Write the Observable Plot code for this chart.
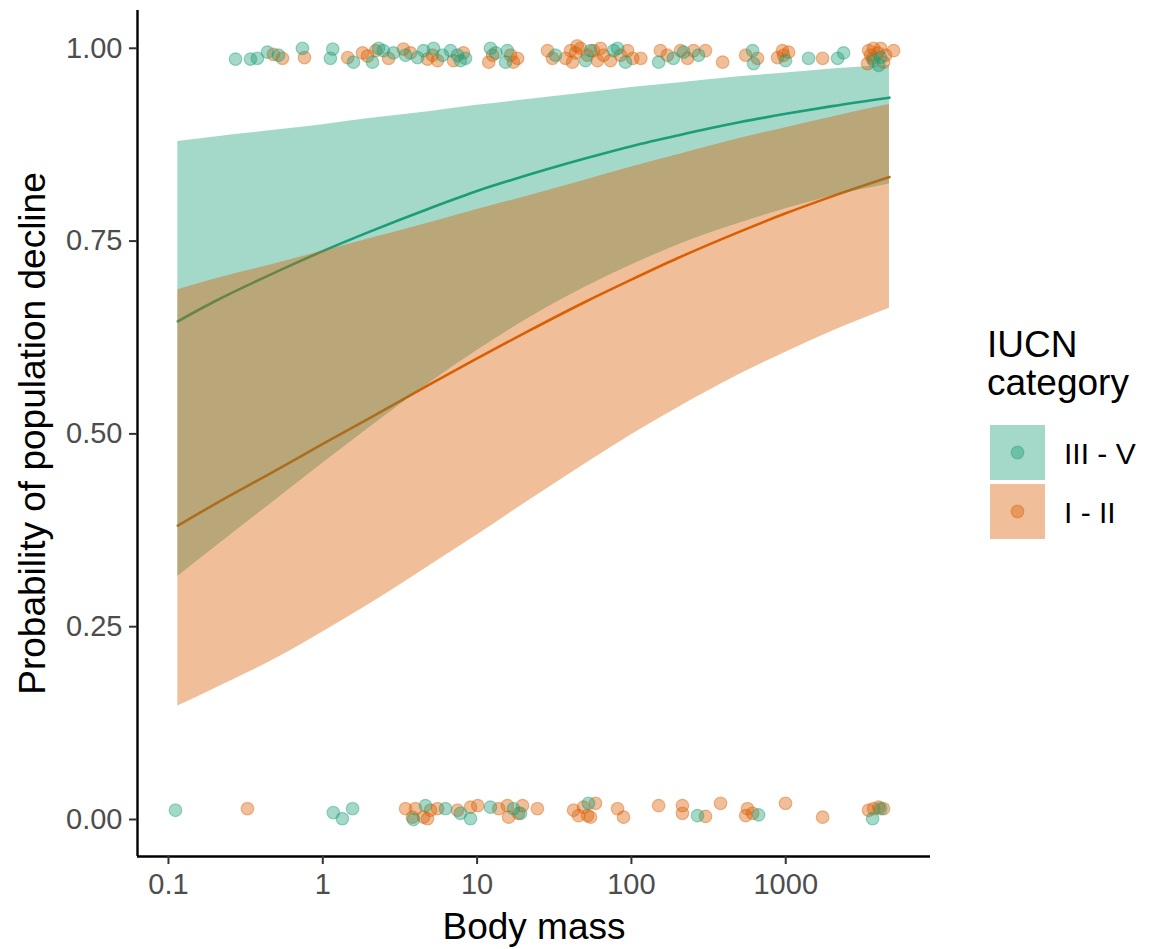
<!DOCTYPE html>
<html><head><meta charset="utf-8">
<script src="https://cdn.jsdelivr.net/npm/d3@7"></script>
<script src="https://cdn.jsdelivr.net/npm/@observablehq/plot@0.6"></script>
<style>
body{margin:0;background:#fff;}
#wrap{position:relative;width:1156px;height:949px;font-family:"Liberation Sans",Arial,sans-serif;}
#wrap svg{position:absolute;}
</style></head><body><div id="wrap"></div>
<script>
// ---- data ----
const groups = ["III - V", "I - II"];
const groupColors = ["#1B9E77", "#D95F02"];

const curveMass = [0.115, 0.2, 0.5, 1, 2, 5, 10, 20, 50, 100, 200, 500, 1000, 2000, 4700];
const fitIIIV  = [0.646,0.672,0.710,0.737,0.762,0.793,0.815,0.834,0.857,0.873,0.887,0.904,0.915,0.925,0.936];
const lowIIIV  = [0.315,0.353,0.415,0.462,0.508,0.567,0.608,0.646,0.690,0.719,0.745,0.773,0.792,0.808,0.824];
const highIIIV = [0.879,0.885,0.894,0.901,0.909,0.918,0.926,0.933,0.942,0.949,0.955,0.963,0.968,0.973,0.978];
const fitIII   = [0.381,0.409,0.453,0.487,0.520,0.565,0.598,0.630,0.671,0.700,0.728,0.762,0.786,0.808,0.833];
const lowIII   = [0.147,0.170,0.209,0.243,0.279,0.330,0.369,0.409,0.461,0.499,0.534,0.577,0.606,0.633,0.663];
const highIII  = [0.687,0.701,0.721,0.737,0.753,0.774,0.791,0.807,0.829,0.846,0.862,0.883,0.897,0.911,0.927];

// observed species (body mass, jittered 0/1 outcome)
const ptsIIIVMass = [0.272,0.340,0.377,0.438,0.516,0.738,1.16,1.12,1.58,2.10,2.30,2.47,2.87,3.44,4.11,4.50,5.22,5.97,6.73,7.46,8.41,7.80,12.2,13.2,15.7,15.3,32.2,50.4,54.3,76.6,81.3,91.6,150,187,218,272,610,619,997,1406,2168,2371,3707,4119,4000,
  0.111,1.17,1.34,1.56,4.63,3.87,6.24,7.80,9.06,12.2,17.2,19.1,52.7,268,667,3656,4119];
const ptsIIIVY = [0.986,0.986,0.987,0.995,0.991,1.000,0.999,0.987,0.982,0.982,1.000,0.997,0.994,0.991,0.988,0.997,1.000,0.991,0.997,0.991,0.987,0.984,1.000,0.994,0.997,0.982,0.991,0.984,0.997,0.997,1.000,0.982,0.982,0.987,0.995,0.991,0.997,0.980,0.984,0.987,0.987,0.994,0.984,0.988,0.978,
  0.012,0.009,0.001,0.014,0.018,0.000,0.014,0.008,0.001,0.016,0.014,0.008,0.021,0.005,0.006,0.001,0.014];
const ptsIIIMass = [0.479,0.548,0.761,1.45,1.81,1.95,2.20,2.67,3.33,3.70,4.77,5.14,5.54,7.03,8.16,12.6,11.9,16.5,17.2,18.3,28.6,30.8,40.3,43.4,46.8,41.5,51.9,56.8,60.3,65.9,73.2,85.0,94.4,102,115,154,171,208,231,253,302,390,550,656,885,953,1043,968,1733,3443,3656,3945,3390,4303,5000,3707,44.5,37.4,63.1,4119,4435,3548,
  0.325,3.44,3.81,3.99,4.50,4.99,5.54,4.77,7.46,9.06,10.1,13.8,15.7,16.0,18.5,19.7,24.6,42.2,45.4,48.9,51.9,58.5,54.3,81.3,88.9,150,214,214,302,378,565,550,610,997,1733,3443,3707,4000,4303];
const ptsIIIY = [0.992,0.987,0.988,0.988,0.994,0.990,0.997,0.987,0.999,0.994,0.986,0.991,0.984,0.984,0.994,0.991,0.982,0.991,0.982,0.987,0.997,0.987,0.997,0.994,1.000,0.982,0.991,0.997,0.984,0.991,0.984,0.991,0.997,0.987,0.987,0.997,0.991,0.997,0.987,0.997,0.997,0.982,0.991,0.987,0.988,0.997,0.995,0.991,0.987,0.997,0.987,0.994,0.980,0.982,0.997,1.000,1.003,0.987,1.000,1.000,0.991,0.991,
  0.014,0.014,0.003,0.014,0.003,0.012,0.014,0.001,0.012,0.016,0.018,0.014,0.018,0.003,0.008,0.018,0.014,0.012,0.005,0.016,0.005,0.021,0.003,0.014,0.003,0.018,0.018,0.008,0.004,0.021,0.014,0.005,0.008,0.021,0.003,0.012,0.014,0.016,0.014];

const xTicks = [0.1, 1, 10, 100, 1000];
const xTickLabels = ["0.1", "1", "10", "100", "1000"];
const yTicks = [0, 0.25, 0.5, 0.75, 1];
const yTickLabels = ["0.00", "0.25", "0.50", "0.75", "1.00"];
const xTitle = "Body mass";
const yTitle = "Probability of population decline";
const legendTitle = ["IUCN", "category"];

// ---- build tables ----
const curveG = curveMass.map((m, i) => ({mass: m, fit: fitIIIV[i], low: lowIIIV[i], high: highIIIV[i]}));
const curveO = curveMass.map((m, i) => ({mass: m, fit: fitIII[i], low: lowIII[i], high: highIII[i]}));
const ptsG = ptsIIIVMass.map((m, i) => ({mass: m, y: ptsIIIVY[i]}));
const ptsO = ptsIIIMass.map((m, i) => ({mass: m, y: ptsIIIY[i]}));

const xDomain = [0.063, 8670];
const yDomain = [-0.048, 1.049];
const font = '"Liberation Sans", Arial, sans-serif';
const cv = "monotone-x";

const plot = Plot.plot({
  width: 945, height: 949,
  marginLeft: 137, marginTop: 10, marginRight: 15, marginBottom: 93,
  style: {fontFamily: font, fontSize: "29px", color: "#4d4d4d", background: "white", overflow: "visible"},
  x: {type: "log", domain: xDomain},
  y: {domain: yDomain},
  marks: [
    Plot.lineY(curveG, {x: "mass", y: "fit", stroke: groupColors[0], strokeWidth: 2.6, curve: cv}),
    Plot.lineY(curveO, {x: "mass", y: "fit", stroke: groupColors[1], strokeWidth: 2.6, curve: cv}),
    Plot.areaY(curveG, {x: "mass", y1: "low", y2: "high", fill: groupColors[0], fillOpacity: 0.4, curve: cv}),
    Plot.areaY(curveO, {x: "mass", y1: "low", y2: "high", fill: groupColors[1], fillOpacity: 0.4, curve: cv}),
    Plot.dot(ptsO, {x: "mass", y: "y", r: 6.3, fill: groupColors[1], fillOpacity: 0.4, stroke: groupColors[1], strokeOpacity: 0.4, strokeWidth: 1.2}),
    Plot.dot(ptsG, {x: "mass", y: "y", r: 6.3, fill: groupColors[0], fillOpacity: 0.4, stroke: groupColors[0], strokeOpacity: 0.4, strokeWidth: 1.2}),
    Plot.ruleX([xDomain[0]], {stroke: "black", strokeWidth: 2.4}),
    Plot.ruleY([yDomain[0]], {stroke: "black", strokeWidth: 2.4}),
    Plot.axisX({ticks: xTicks, tickFormat: d => xTickLabels[xTicks.indexOf(d)], tickSize: 8, tickPadding: 9, label: null, stroke: "#333", strokeWidth: 2, fill: "#4d4d4d"}),
    Plot.axisY({ticks: yTicks, tickFormat: d => yTickLabels[yTicks.indexOf(d)], tickSize: 8, tickPadding: 7, label: null, stroke: "#333", strokeWidth: 2, fill: "#4d4d4d"}),
    Plot.text([xTitle], {text: d => d, frameAnchor: "bottom", dy: 82, fontSize: 37, fill: "black"}),
    Plot.text([yTitle], {text: d => d, frameAnchor: "left", textAnchor: "middle", dx: -104, rotate: -90, fontSize: 37, fill: "black"})
  ]
});
plot.style.left = "0px"; plot.style.top = "0px";
document.getElementById("wrap").appendChild(plot);

// ---- legend ----
const lg = d3.select("#wrap").append("svg")
  .attr("width", 200).attr("height", 240)
  .style("left", "956px").style("top", "320px")
  .style("font-family", font);
lg.selectAll("text.t").data(legendTitle).join("text")
  .attr("x", 31).attr("y", (d, i) => 37 + i * 38)
  .attr("font-size", 37).attr("fill", "black").text(d => d);
groups.forEach((g, i) => {
  const y0 = 105 + i * 59;
  lg.append("rect").attr("x", 34).attr("y", y0).attr("width", 55).attr("height", 55)
    .attr("fill", groupColors[i]).attr("fill-opacity", 0.4);
  lg.append("circle").attr("cx", 61.5).attr("cy", y0 + 27.5).attr("r", 6.3)
    .attr("fill", groupColors[i]).attr("fill-opacity", 0.4)
    .attr("stroke", groupColors[i]).attr("stroke-opacity", 0.4).attr("stroke-width", 1.2);
  lg.append("text").attr("x", 108).attr("y", y0 + 39).attr("font-size", 30).attr("fill", "black").text(g);
});
</script>
</body></html>
